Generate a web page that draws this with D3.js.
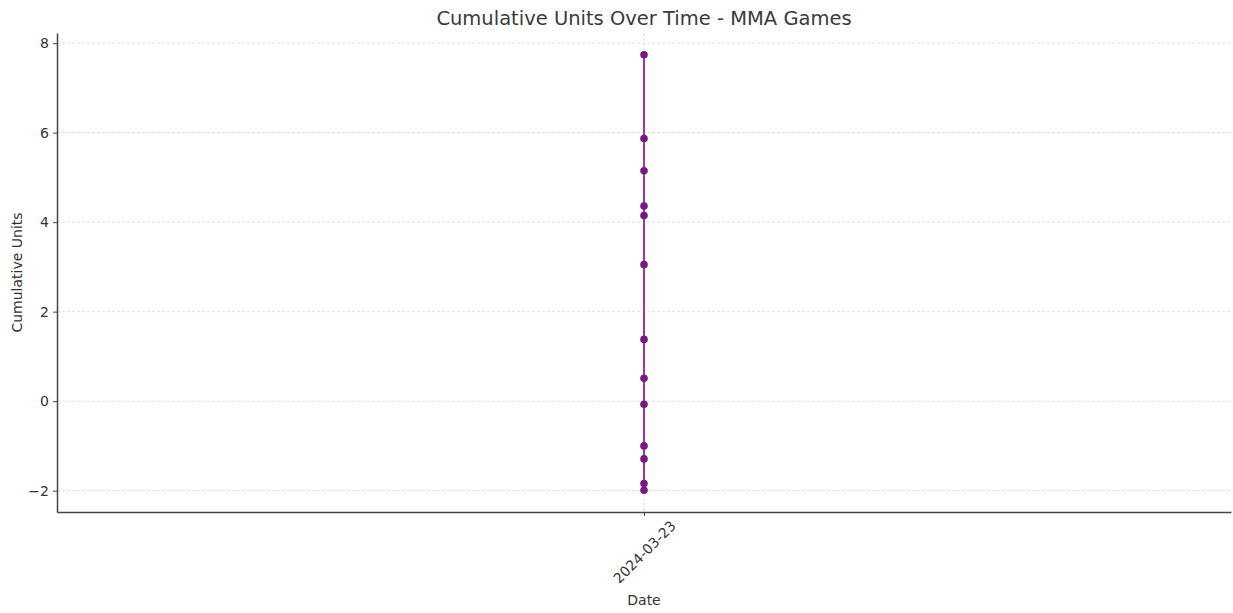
<!DOCTYPE html>
<html><head><meta charset="utf-8">
<script src="https://cdn.jsdelivr.net/npm/d3@7"></script>
<style>body{margin:0;background:#fff}svg{display:block}text{font-family:"DejaVu Sans",sans-serif}</style>
</head><body>
<svg id="c" width="1233" height="613"></svg>
<script>
const dates = ["2024-03-23"];
const cumulativeUnits = [-1.0, -1.99, -1.84, -1.29, -0.07, 0.51, 1.38, 3.05, 4.15, 4.36, 5.15, 5.87, 7.74];
const pointDates = cumulativeUnits.map(() => "2024-03-23");
const yTicks = [-2, 0, 2, 4, 6, 8];
const title = "Cumulative Units Over Time - MMA Games";

const W = 1233, H = 613;
const m = {left: 57, right: 2, top: 33, bottom: 101};
const svg = d3.select("#c");
const parse = d3.timeParse("%Y-%m-%d");
const fmt = d3.timeFormat("%Y-%m-%d");
const d0 = parse(dates[0]);
const x = d3.scaleTime()
  .domain([d3.timeDay.offset(d0, -1), d3.timeDay.offset(d0, 1)])
  .range([m.left, W - m.right]);
const ext = d3.extent(cumulativeUnits);
const pad = (ext[1] - ext[0]) * 0.05;
const y = d3.scaleLinear().domain([ext[0] - pad, ext[1] + pad]).range([H - m.bottom, m.top]);

// grid
const grid = svg.append("g");
grid.selectAll("line.h").data(yTicks).join("line")
  .attr("x1", m.left).attr("x2", W - m.right)
  .attr("y1", d => y(d)).attr("y2", d => y(d))
  .attr("stroke", "#d4d4d4").attr("stroke-width", 0.8).attr("stroke-dasharray", "3,2");
grid.selectAll("line.v").data(dates).join("line")
  .attr("x1", d => x(parse(d))).attr("x2", d => x(parse(d)))
  .attr("y1", m.top).attr("y2", H - m.bottom)
  .attr("stroke", "#d4d4d4").attr("stroke-width", 0.8).attr("stroke-dasharray", "3,2");

// line + points
const pts = cumulativeUnits.map((v, i) => ({d: parse(pointDates[i]), v}));
svg.append("path").datum(pts)
  .attr("fill", "none").attr("stroke", "#9a3aa2").attr("stroke-width", 2)
  .attr("d", d3.line().x(d => x(d.d)).y(d => y(d.v)));
svg.selectAll("circle").data(pts).join("circle")
  .attr("cx", d => x(d.d)).attr("cy", d => y(d.v)).attr("r", 3.8)
  .attr("fill", "#761a7e");

// axes
const yAxis = svg.append("g").attr("transform", `translate(${m.left},0)`)
  .call(d3.axisLeft(y).tickValues(yTicks).tickSize(4).tickSizeOuter(0).tickPadding(4)
    .tickFormat(d => d < 0 ? "\u2212" + Math.abs(d) : d));
yAxis.select(".domain").attr("stroke", "#444").attr("stroke-width", 1.5);
yAxis.selectAll(".tick line").attr("stroke", "#444");
yAxis.selectAll(".tick text").attr("fill", "#333").attr("font-size", 14);

const xAxis = svg.append("g").attr("transform", `translate(0,${H - m.bottom})`)
  .call(d3.axisBottom(x).tickValues(dates.map(parse)).tickSize(4).tickSizeOuter(0).tickFormat(fmt));
xAxis.select(".domain").attr("stroke", "#444").attr("stroke-width", 1.5);
xAxis.selectAll(".tick line").attr("stroke", "#444");
xAxis.selectAll(".tick text").attr("fill", "#333").attr("font-size", 14)
  .attr("text-anchor", "middle").attr("dominant-baseline", "central")
  .attr("y", 0).attr("dy", 0)
  .attr("transform", "translate(0,40) rotate(-45)");

// labels
svg.append("text").attr("x", (m.left + W - m.right) / 2).attr("y", 25)
  .attr("text-anchor", "middle").attr("font-size", 19.5).attr("fill", "#3a3a3a").text(title);
svg.append("text").attr("x", (m.left + W - m.right) / 2).attr("y", 605)
  .attr("text-anchor", "middle").attr("font-size", 14).attr("fill", "#333").text("Date");
svg.append("text").attr("transform", `translate(22,${(m.top + H - m.bottom) / 2}) rotate(-90)`)
  .attr("text-anchor", "middle").attr("font-size", 14).attr("fill", "#333").text("Cumulative Units");
</script>
</body></html>
